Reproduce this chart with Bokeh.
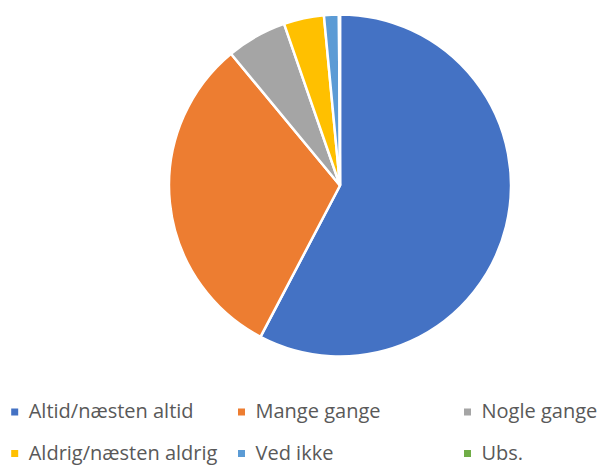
import math
from bokeh.plotting import figure
from bokeh.models import Range1d, ColumnDataSource
from bokeh.core.properties import value
from bokeh.embed import file_html
from bokeh.resources import INLINE

categories = ["Altid/næsten altid", "Mange gange", "Nogle gange",
              "Aldrig/næsten aldrig", "Ved ikke", "Ubs."]
shares = [57.7, 31.3, 5.7, 3.8, 1.4, 0.1]
colors = ["#4472C4", "#ED7D31", "#A5A5A5", "#FFC000", "#5B9BD5", "#70AD47"]

W, H = 604, 466
p = figure(width=W, height=H, output_backend="svg", toolbar_location=None,
           x_range=Range1d(0, W), y_range=Range1d(0, H),
           min_border=0, outline_line_color=None)
p.axis.visible = False
p.grid.visible = False
p.background_fill_color = "white"

# pie (reference pixel coords; data y = 466 - y_px)
cx, cy, r = 339.5, H - 185, 171
total = sum(shares)
starts, ends = [], []
cum = 0.0
for s in shares:
    a0 = math.pi / 2 - 2 * math.pi * cum / total
    cum += s
    a1 = math.pi / 2 - 2 * math.pi * cum / total
    starts.append(a1)
    ends.append(a0)
src = ColumnDataSource(dict(start=starts, end=ends, color=colors, cat=categories))
p.wedge(x=cx, y=cy, radius=r, start_angle="start", end_angle="end",
        direction="anticlock", fill_color="color", line_color="white",
        line_width=2.5, source=src)

# legend
mx = [14.2, 241, 467, 14.2, 241, 467]
my = [411.5, 411.5, 411.5, 453.0, 453.0, 453.0]
ty = [409.7, 409.7, 409.7, 452.2, 452.2, 452.2]
lsrc = ColumnDataSource(dict(x=mx, y=[H - v for v in my], ty=[H - v for v in ty],
                             tx=[m + 14 for m in mx], color=colors, cat=categories))
p.rect(x="x", y="y", width=7, height=7, fill_color="color", line_color=None, source=lsrc)
p.text(x="tx", y="ty", text="cat", text_font=value("Open Sans"), text_font_size="20px",
       text_color="#595959", text_baseline="middle", text_align="left", source=lsrc)

open("out.html", "w").write(file_html(p, INLINE))
